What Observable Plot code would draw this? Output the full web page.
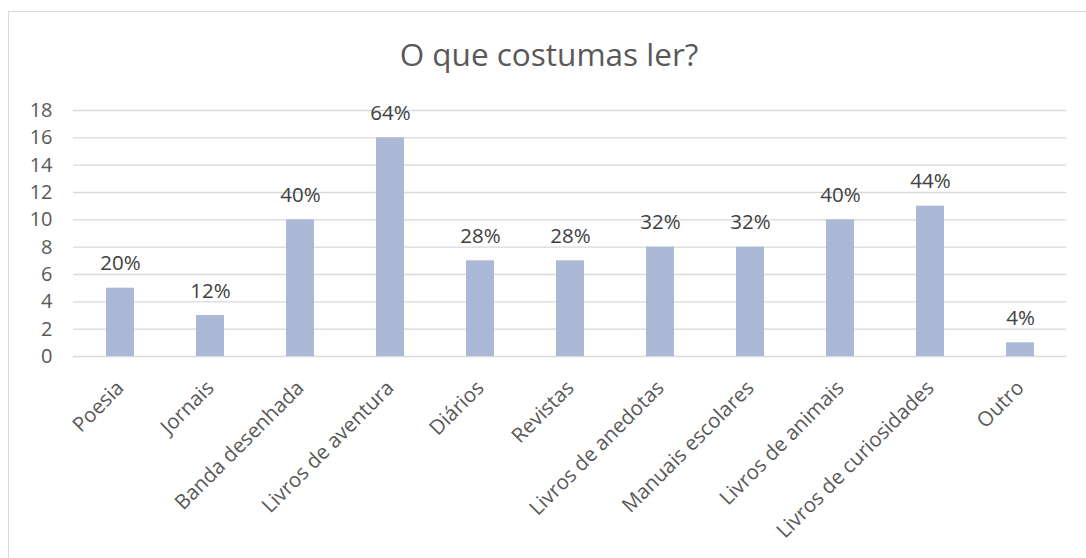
<!DOCTYPE html>
<html>
<head>
<meta charset="utf-8">
<script src="https://cdn.jsdelivr.net/npm/d3@7"></script>
<script src="https://cdn.jsdelivr.net/npm/@observablehq/plot@0.6"></script>
<style>
  html, body { margin: 0; padding: 0; background: #fff; overflow: hidden; }
  #wrap { position: relative; width: 1086px; height: 558px; overflow: hidden; }
  #frame { position: absolute; left: 8px; top: 11px; width: 2000px; height: 2000px; border-left: 1.5px solid #d9d9d9; border-top: 1.5px solid #d9d9d9; }
  #title { position: absolute; left: 0; width: 1098px; top: 38px; text-align: center; font-family: "Open Sans", sans-serif; font-size: 31.5px; line-height: 31px; color: #595959; }
  #chart { position: absolute; left: 0; top: 0; }
</style>
</head>
<body>
<div id="wrap">
  <div id="frame"></div>
  <div id="title">O que costumas ler?</div>
  <div id="chart"></div>
</div>
<script>
const categories = ["Poesia", "Jornais", "Banda desenhada", "Livros de aventura", "Diários", "Revistas", "Livros de anedotas", "Manuais escolares", "Livros de animais", "Livros de curiosidades", "Outro"];
const counts = [5, 3, 10, 16, 7, 7, 8, 8, 10, 11, 1];
const percentLabels = ["20%", "12%", "40%", "64%", "28%", "28%", "32%", "32%", "40%", "44%", "4%"];
const yTicks = [0, 2, 4, 6, 8, 10, 12, 14, 16, 18];

const data = categories.map((c, i) => ({cat: c, count: counts[i], label: percentLabels[i]}));

const chart = Plot.plot({
  width: 1086,
  height: 558,
  marginLeft: 73,
  marginRight: 20,
  marginTop: 110,
  marginBottom: 202,
  style: {fontFamily: "Open Sans, sans-serif", background: "transparent", color: "#595959"},
  x: {domain: categories, paddingInner: 0.69, paddingOuter: 0.345, axis: null},
  y: {domain: [0, 18], axis: null},
  marks: [
    Plot.ruleY(yTicks, {stroke: "#d9d9d9", strokeWidth: 1.3}),
    Plot.barY(data, {x: "cat", y: "count", fill: "#abb9d7"}),
    Plot.text(data, {x: "cat", y: "count", text: "label", dy: -18, lineAnchor: "bottom", fontSize: 20.5, fill: "#404040"}),
    Plot.axisY(yTicks, {tickSize: 0, tickPadding: 21, fontSize: 20, fill: "#595959", label: null}),
    Plot.text(categories, {x: d => d, text: d => d, frameAnchor: "bottom", rotate: -45, textAnchor: "end", lineAnchor: "middle", dx: 0, dy: 28, fontSize: 20.5, fill: "#595959"})
  ]
});
document.getElementById("chart").appendChild(chart);
</script>
</body>
</html>
